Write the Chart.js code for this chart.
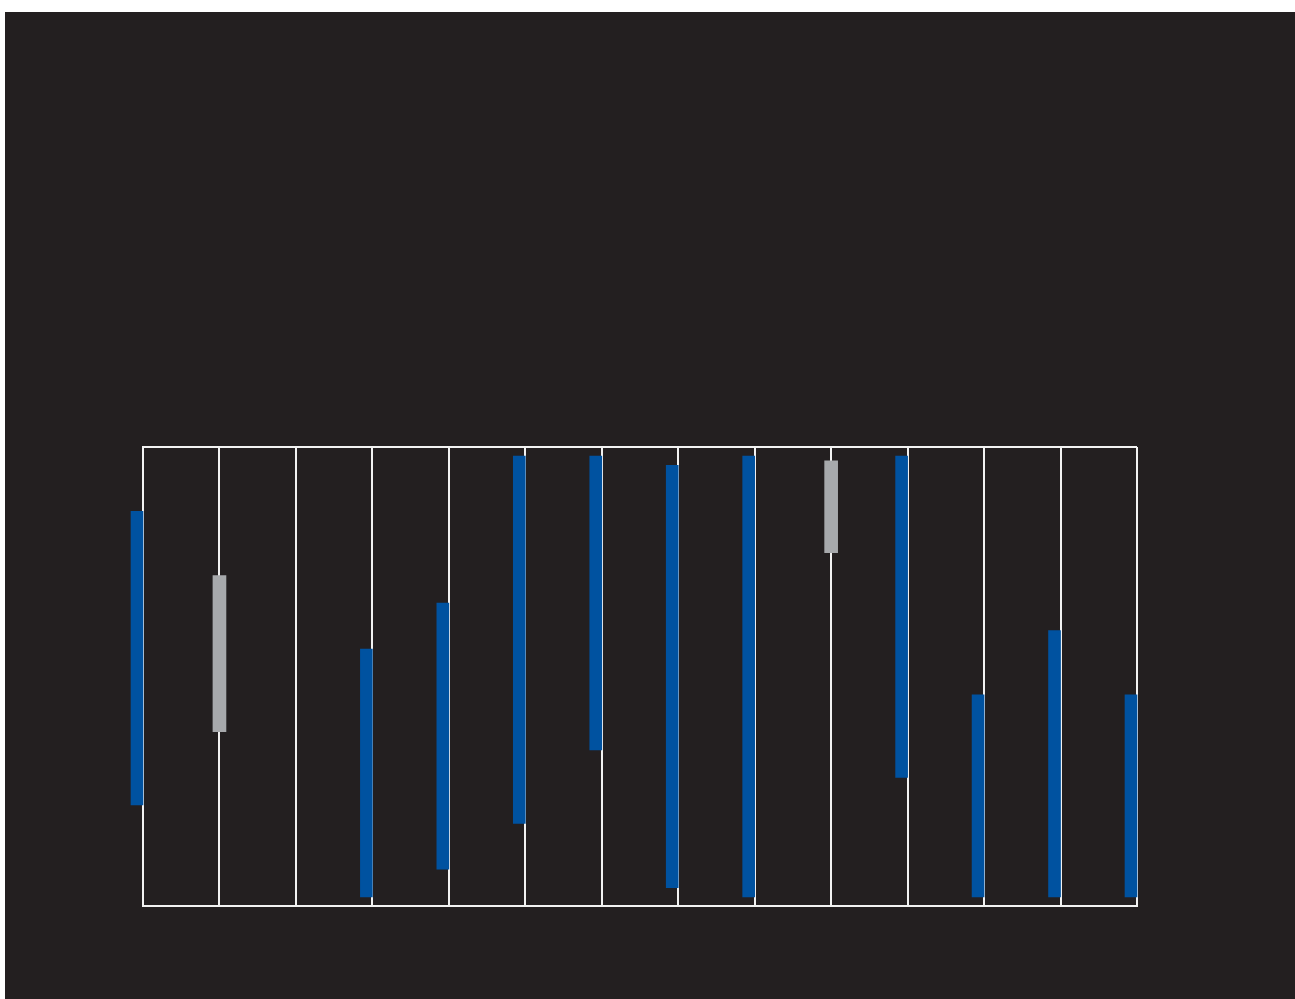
<!DOCTYPE html>
<html>
<head>
<meta charset="utf-8">
<script src="https://cdn.jsdelivr.net/npm/chart.js@4/dist/chart.umd.min.js"></script>
<style>
	html, body { margin: 0; padding: 0; background: #ffffff; }
	#quadro {
		position: absolute;
		left: 5px;
		top: 12px;
		width: 1290px;
		height: 987px;
		background: #231f20;
	}
</style>
</head>
<body>
<div id="quadro"><canvas id="grafico"></canvas></div>
<script>
// categorias (uma por linha vertical)
var categorias = ['1', '2', '3', '4', '5', '6', '7', '8', '9', '10', '11', '12', '13', '14'];

// faixas [minimo, maximo] da serie azul
var faixasAzuis = [
	[22, 86], null, null, [2, 56], [8, 66], [18, 98], [34, 98],
	[4, 96], [2, 98], null, [28, 98], [2, 46], [2, 60], [2, 46]
];

// faixas [minimo, maximo] da serie cinza
var faixasCinzas = [
	null, [38, 72], null, null, null, null, null,
	null, null, [77, 97], null, null, null, null
];

var vazio = categorias.map(function() { return null; });

var escalaY = { min: 0, max: 100, passo: 100 };

var corFundo = '#231f20';
var corLinha = '#f2f2f2';
var corAzul = '#0052a0';
var corCinza = '#a7a9ac';

function zerar(eixo) {
	if (eixo.isHorizontal()) {
		eixo.height = 0;
	} else {
		eixo.width = 0;
	}
}

var grafico = new Chart(document.getElementById('grafico').getContext('2d'), {
	type: 'bar',
	data: {
		labels: categorias,
		datasets: [{
			label: 'Azul',
			data: faixasAzuis,
			backgroundColor: corAzul,
			barThickness: 12,
			clip: false
		}, {
			label: 'Espaco',
			data: vazio,
			backgroundColor: 'rgba(0,0,0,0)',
			barThickness: 12
		}, {
			label: 'Cinza',
			data: faixasCinzas,
			backgroundColor: corCinza,
			barThickness: 13,
			grouped: false,
			clip: false
		}]
	},
	options: {
		responsive: true,
		maintainAspectRatio: false,
		animation: false,
		layout: {
			padding: { left: 138, top: 435, right: 158, bottom: 93 }
		},
		plugins: {
			legend: { display: false },
			tooltip: { enabled: false }
		},
		scales: {
			x: {
				offset: false,
				grid: { offset: false, color: corLinha, lineWidth: 2, drawTicks: false },
				border: { color: corLinha, width: 2 },
				ticks: { display: false },
				afterFit: zerar
			},
			y: {
				min: escalaY.min,
				max: escalaY.max,
				grid: { color: corLinha, lineWidth: 2, drawTicks: false },
				border: { color: corLinha, width: 2 },
				ticks: { display: false, stepSize: escalaY.passo },
				afterFit: zerar
			}
		}
	}
});
</script>
</body>
</html>
